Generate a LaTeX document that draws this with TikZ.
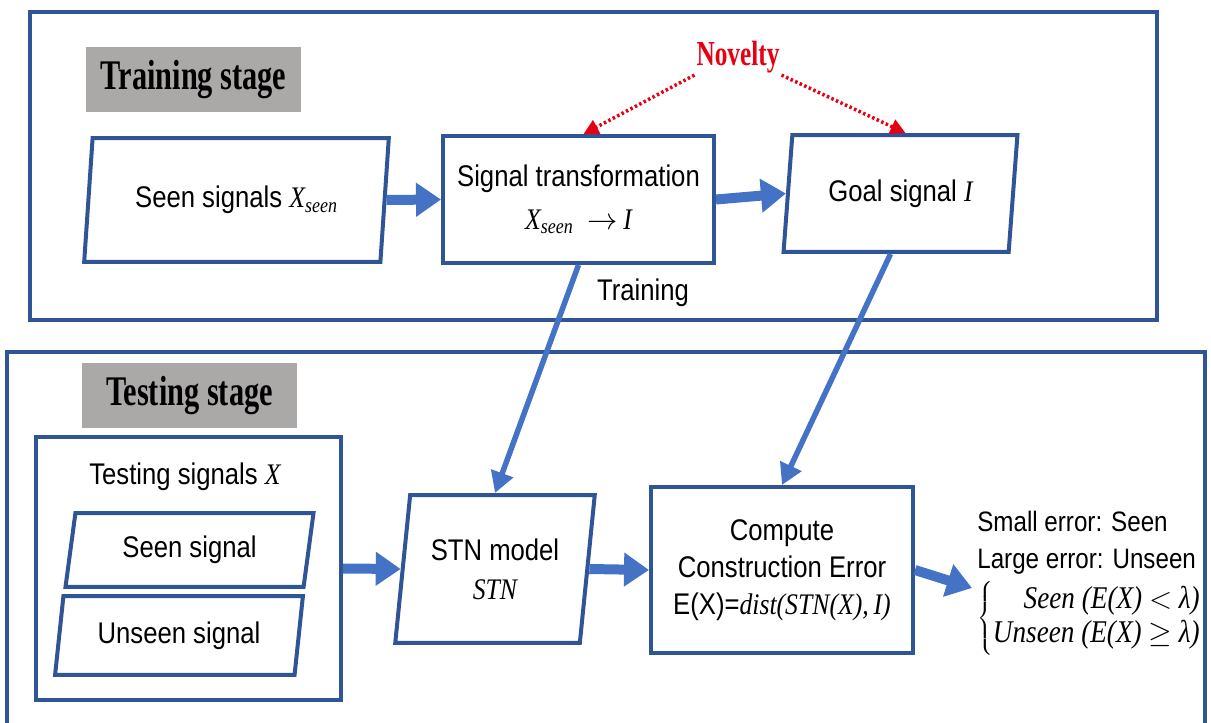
\documentclass[tikz,border=0pt]{standalone}
\usepackage{fontspec}
\setsansfont{Liberation Sans}[FakeStretch=0.86]
\newfontfamily\stagefont{Liberation Serif}[FakeStretch=0.72]
\newfontfamily\formfont{Liberation Serif}[FakeStretch=0.86]
\newcommand{\mathtxt}[1]{{\formfont\itshape #1}}
\usepackage{tikz}
\usetikzlibrary{arrows.meta,positioning,shapes.geometric}
\definecolor{frameblue}{HTML}{2F5597}
\definecolor{arrowblue}{HTML}{4472C4}
\definecolor{stagegray}{HTML}{ABA8A8}
\definecolor{novred}{HTML}{E60012}
\tikzset{
  stageframe/.style={draw=frameblue, line width=0.08cm},
  stagelabel/.style={
    rectangle, fill=stagegray, inner sep=0pt,
    minimum width=4.3cm, minimum height=1.3cm,
    font=\stagefont\bfseries\fontsize{24}{28}\selectfont
  },
  procbox/.style={
    rectangle, draw=frameblue, line width=0.08cm,
    align=center, inner sep=2pt
  },
  iobox/.style={
    trapezium, trapezium left angle=80, trapezium right angle=100,
    trapezium stretches=true, draw=frameblue, line width=0.08cm,
    align=center, inner sep=2pt
  },
  flowarrow/.style={
    -{Triangle[length=0.5cm,width=0.65cm]}, line width=0.2cm, draw=arrowblue
  },
  linkarrow/.style={
    -{Triangle[length=0.42cm,width=0.45cm]}, line width=0.11cm, draw=arrowblue
  },
  novarrow/.style={
    -{Triangle[length=0.3cm,width=0.3cm]}, line width=0.07cm, draw=novred,
    dash pattern=on 0.05cm off 0.05cm
  },
}

\begin{document}
\begin{tikzpicture}[x=0.02cm, y=-0.02cm,
    font=\sffamily\fontsize{17}{20}\selectfont]
  \useasboundingbox (0,0) rectangle (1211,723);

  % training stage
  \draw[stageframe] (30,12) rectangle (1157,320);
  \node[stagelabel] (trainstage) at (193.5,79.5) {Training stage};
  \node[iobox, minimum width=6.1cm, minimum height=2.48cm] (seen) at (236.5,200)
    {Seen signals \mathtxt{X\textsubscript{seen}}};
  \node[procbox, minimum width=5.42cm, minimum height=2.54cm] (transform) at (578.5,199.5)
    {Signal transformation\\[4pt] \mathtxt{X\textsubscript{seen}}~~$\to$\,\mathtxt{I}};
  \node[iobox, minimum width=4.7cm, minimum height=2.34cm] (goal) at (900.5,193.5)
    {Goal signal \mathtxt{I}};
  \node[font=\stagefont\bfseries\fontsize{20}{24}\selectfont, text=novred, inner sep=1pt]
    (novelty) at (738,57) {Novelty};
  \node (trainword) at (643,293) {Training};

  \draw[flowarrow] (seen.east) -- (transform.west);
  \draw[flowarrow] (transform.east) -- (goal.west);
  \draw[novarrow] (novelty.south west) -- ([xshift=0.1cm]transform.north);
  \draw[novarrow] (novelty.south east) -- ([xshift=0.1cm]goal.north);

  % testing stage
  \draw[stageframe] (7,723) -- (7,352) -- (1205,352) -- (1205,723);
  \node[stagelabel] (teststage) at (189.5,395.5) {Testing stage};
  \node[procbox, minimum width=6.1cm, minimum height=5.26cm] (testbox) at (188.5,568.5) {};
  \node (testhead) at (185,477) {Testing signals \mathtxt{X}};
  \node[iobox, minimum width=4.98cm, minimum height=1.48cm] (seensig) at (189.5,550)
    {Seen signal};
  \node[iobox, minimum width=4.96cm, minimum height=1.58cm] (unseensig) at (179,635.5)
    {Unseen signal};
  \node[iobox, minimum width=4cm, minimum height=2.96cm] (stn) at (495,569)
    {STN model\\[2pt] \mathtxt{STN}};
  \node[procbox, minimum width=5.24cm, minimum height=3.32cm] (compute) at (782,570)
    {Compute\\[1pt] Construction Error\\[1pt] E(X)=\mathtxt{dist(STN(X),\,I)}};
  \node[anchor=west, align=left, inner sep=0pt,
        font=\sffamily\fontsize{16}{21}\selectfont] (verdict) at (977,583)
    {Small error: Seen\\ Large error: Unseen\\[3pt]
     {\fontsize{18}{21}\selectfont
     $\left\{\begin{tabular}{@{}r@{}}
       \mathtxt{Seen (E(X) $<$ λ)}\\[-2pt]
       \mathtxt{Unseen (E(X) $\geq$ λ)}
     \end{tabular}\right.$}};

  \draw[flowarrow] (testbox.east) -- (stn.west);
  \draw[flowarrow] (stn.east) -- (compute.west);
  \draw[flowarrow] (compute.east) -- ([xshift=-0.1cm,yshift=-0.1cm]verdict.west);
  \draw[linkarrow] (transform.south) -- (stn.north);
  \draw[linkarrow] ([xshift=-0.2cm]goal.south) -- (compute.north);
\end{tikzpicture}
\end{document}
